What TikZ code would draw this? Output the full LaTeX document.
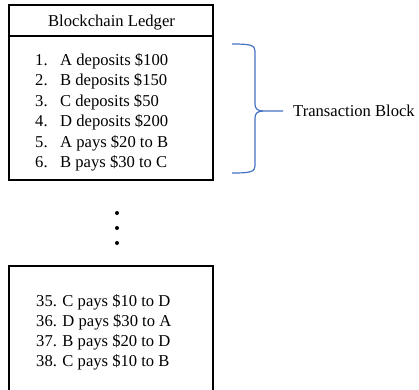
\documentclass[tikz,border=0pt]{standalone}
\usepackage{fontspec}
\setmainfont{Liberation Serif}
\definecolor{braceblue}{HTML}{4472C4}
\begin{document}
\begin{tikzpicture}[x=1pt,y=-1pt,
  frame/.style={draw=black,line width=1.3pt},
  txt/.style={inner sep=0pt,anchor=base west,font=\fontsize{16.6}{19.5}\selectfont},
  num/.style={txt},
  dot/.style={circle,fill=black,inner sep=0pt,minimum size=4pt}]
\useasboundingbox (0,0) rectangle (419,389);
\clip (0,0) rectangle (419,389);
% header and first block
\draw[frame] (9,5) rectangle (213,36);
\node[txt,anchor=base] (title) at (111.5,26.7) {Blockchain Ledger};
\draw[frame] (9,36) rectangle (213,180);
\foreach \n/\t [count=\i from 0] in {1/A deposits \$100,2/B deposits \$150,3/C deposits \$50,4/D deposits \$200,5/A pays \$20 to B,6/B pays \$30 to C}{
  \node[num] (n\n) at (35,65+20.5*\i) {\n.};
  \node[txt] (t\n) at (60,65+20.5*\i) {\t};
}
% continuation dots
\node[dot] (d1) at (117,213) {};
\node[dot] (d2) at (117,228) {};
\node[dot] (d3) at (117,243) {};
% last block, running past the lower edge
\draw[frame] (9,400) -- (9,266) -- (213,266) -- (213,400);
\foreach \t [count=\i from 0] in {35. C pays \$10 to D,36. D pays \$30 to A,37. B pays \$20 to D,38. C pays \$10 to B}{
  \node[txt] (b\i) at (36,306.5+20*\i) {\t};
}
% brace marking the transaction block
\coordinate (bt) at (232,44);
\coordinate (bb) at (232,173);
\coordinate (tip) at (283,111);
\draw[braceblue,line width=1.2pt]
  (bt) .. controls (250,44) and (255,45) .. (255,51) -- (255,104)
  .. controls (255,109) and (258,111) .. (263,111) -- (tip);
\draw[braceblue,line width=1.2pt]
  (bb) .. controls (250,173) and (255,172) .. (255,166) -- (255,118)
  .. controls (255,113) and (258,111) .. (263,111);
\node[txt,anchor=west] (label) at (293,111) {Transaction Block};
\end{tikzpicture}
\end{document}
